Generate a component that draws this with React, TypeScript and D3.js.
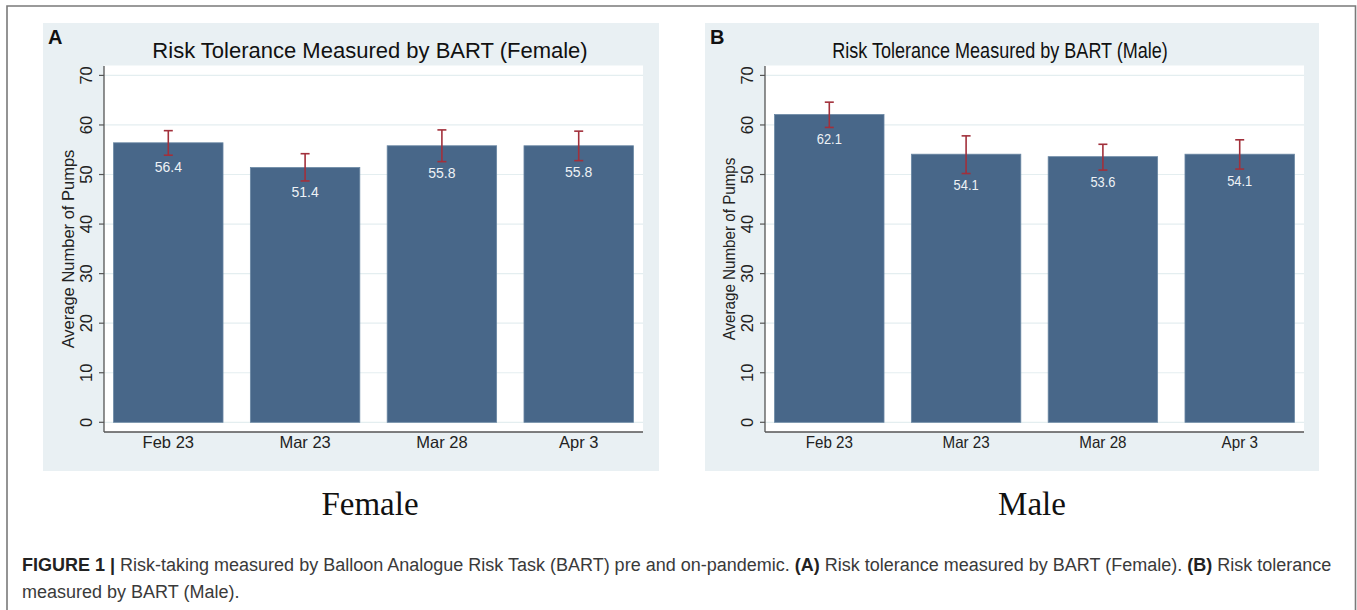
import React from "react";
import * as d3 from "d3";

const categories = ["Feb 23", "Mar 23", "Mar 28", "Apr 3"];
const femaleMeans = [56.4, 51.4, 55.8, 55.8];
const femaleUpper = [58.85, 54.2, 59.0, 58.75];
const femaleLower = [53.9, 48.7, 52.6, 52.8];
const maleMeans = [62.1, 54.1, 53.6, 54.1];
const maleUpper = [64.6, 57.8, 56.1, 57.0];
const maleLower = [59.5, 50.2, 50.9, 51.1];
const yTicks = [0, 10, 20, 30, 40, 50, 60, 70];

const BAR = "#486789";
const ERR = "#a2303b";
const BG = "#e9f0f3";
const GRID = "#e4eef0";
const SANS = "Liberation Sans, Arial, sans-serif";

type PanelProps = {
  letter: string;
  title: string;
  means: number[];
  upper: number[];
  lower: number[];
  bgX0: number;
  bgX1: number;
  plotX0: number;
  plotX1: number;
  titleX: number;
  squeeze: number;
  subLabel: string;
  subX: number;
};

function Panel(p: PanelProps) {
  const y = d3.scaleLinear().domain([0, 70]).range([422.3, 75.4]);
  const x = d3
    .scaleBand<string>()
    .domain(categories)
    .range([p.plotX0, p.plotX1])
    .paddingInner(0.2)
    .paddingOuter(0.07);
  const bw = x.bandwidth();
  const sq = p.squeeze;
  return (
    <g>
      <rect x={p.bgX0} y={23} width={p.bgX1 - p.bgX0} height={448} fill={BG} />
      <rect x={p.plotX0} y={65.5} width={p.plotX1 - p.plotX0} height={432 - 65.5} fill="#ffffff" />
      {yTicks.map((t) => (
        <line key={"g" + t} x1={p.plotX0} x2={p.plotX1} y1={y(t)} y2={y(t)} stroke={GRID} strokeWidth={1.2} />
      ))}
      {categories.map((c, i) => (
        <rect
          key={"b" + c}
          x={x(c)!}
          y={y(p.means[i])}
          width={bw}
          height={y(0) - y(p.means[i])}
          fill={BAR}
          stroke="#6a87a3"
          strokeWidth={0.8}
        />
      ))}
      {categories.map((c, i) => {
        const cx = x(c)! + bw / 2;
        return (
          <g key={"e" + c} stroke={ERR} strokeWidth={1.6}>
            <line x1={cx} x2={cx} y1={y(p.upper[i])} y2={y(p.lower[i])} />
            <line x1={cx - 4.5} x2={cx + 4.5} y1={y(p.upper[i])} y2={y(p.upper[i])} />
            <line x1={cx - 4.5} x2={cx + 4.5} y1={y(p.lower[i])} y2={y(p.lower[i])} />
          </g>
        );
      })}
      {categories.map((c, i) => (
        <text
          key={"v" + c}
          transform={`translate(${x(c)! + bw / 2},${y(p.lower[i]) + 16.5}) scale(${sq},1)`}
          textAnchor="middle"
          fontFamily={SANS}
          fontSize={14}
          fill="#eef2f6"
        >
          {p.means[i].toFixed(1)}
        </text>
      ))}
      <line x1={p.plotX0} x2={p.plotX0} y1={66} y2={432} stroke="#555" strokeWidth={1.3} />
      <line x1={p.plotX0} x2={p.plotX1} y1={432} y2={432} stroke="#555" strokeWidth={1.3} />
      {yTicks.map((t) => (
        <g key={"t" + t}>
          <line x1={p.plotX0 - 5} x2={p.plotX0} y1={y(t)} y2={y(t)} stroke="#555" strokeWidth={1.2} />
          <text
            transform={`translate(${p.plotX0 - 12.5},${y(t)}) rotate(-90)`}
            textAnchor="middle"
            fontFamily={SANS}
            fontSize={16.5}
            fill="#222"
          >
            {t}
          </text>
        </g>
      ))}
      {categories.map((c) => (
        <text
          key={"x" + c}
          transform={`translate(${x(c)! + bw / 2},448) scale(${sq},1)`}
          textAnchor="middle"
          fontFamily={SANS}
          fontSize={16.5}
          fill="#222"
        >
          {c}
        </text>
      ))}
      <text
        transform={`translate(${p.plotX0 - 30},249) rotate(-90) scale(${sq},1)`}
        textAnchor="middle"
        fontFamily={SANS}
        fontSize={16.5}
        fill="#222"
      >
        Average Number of Pumps
      </text>
      <text
        transform={`translate(${p.titleX},58) scale(${sq === 1 ? 1 : 0.82},1)`}
        textAnchor="middle"
        fontFamily={SANS}
        fontSize={22}
        fill="#111"
      >
        {p.title}
      </text>
      <text x={p.bgX0 + 5} y={44} fontFamily={SANS} fontWeight="bold" fontSize={20} fill="#111">
        {p.letter}
      </text>
      <text x={p.subX} y={515} textAnchor="middle" fontFamily="Liberation Serif, serif" fontSize={33} fill="#111">
        {p.subLabel}
      </text>
    </g>
  );
}

export default function App() {
  return (
    <svg
      width={1357}
      height={610}
      style={{ position: "absolute", left: 0, top: 0, display: "block", background: "#fff" }}
    >
      <rect x={0} y={0} width={1357} height={610} fill="#fff" />
      <path d="M7,610 V6 H1355.5 V610" fill="none" stroke="#7a7a7a" strokeWidth={1.6} />
      <Panel
        letter="A"
        title="Risk Tolerance Measured by BART (Female)"
        means={femaleMeans}
        upper={femaleUpper}
        lower={femaleLower}
        bgX0={43}
        bgX1={659}
        plotX0={104}
        plotX1={643}
        titleX={370}
        squeeze={1}
        subLabel="Female"
        subX={370}
      />
      <Panel
        letter="B"
        title="Risk Tolerance Measured by BART (Male)"
        means={maleMeans}
        upper={maleUpper}
        lower={maleLower}
        bgX0={705}
        bgX1={1319}
        plotX0={765}
        plotX1={1304}
        titleX={1000}
        squeeze={0.92}
        subLabel="Male"
        subX={1032}
      />
      <text x={22} y={571} fontFamily={SANS} fontSize={18} fill="#3a3a3a">
        <tspan fontWeight="bold" fill="#222">FIGURE 1 | </tspan>
        <tspan>Risk-taking measured by Balloon Analogue Risk Task (BART) pre and on-pandemic. </tspan>
        <tspan fontWeight="bold" fill="#222">(A)</tspan>
        <tspan> Risk tolerance measured by BART (Female). </tspan>
        <tspan fontWeight="bold" fill="#222">(B)</tspan>
        <tspan> Risk tolerance</tspan>
      </text>
      <text x={22} y={598} fontFamily={SANS} fontSize={18} fill="#3a3a3a">
        measured by BART (Male).
      </text>
    </svg>
  );
}
